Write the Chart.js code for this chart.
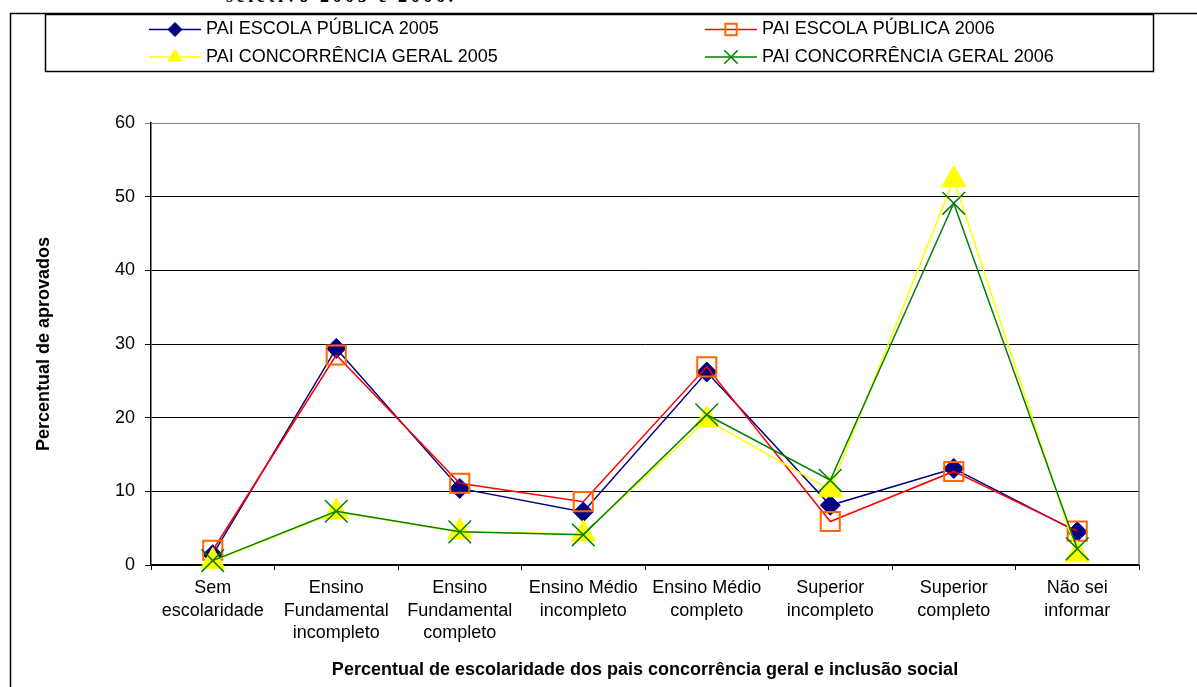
<!DOCTYPE html>
<html>
<head>
<meta charset="utf-8">
<script src="https://cdn.jsdelivr.net/npm/chart.js@4.4.0/dist/chart.umd.min.js"></script>
<style>
  html, body { margin: 0; padding: 0; background: #fff; }
  #wrap { position: relative; width: 1197px; height: 687px; overflow: hidden; background: #fff; }
  #caption {
    position: absolute; left: 226px; top: -13px;
    font: bold 18px "Liberation Serif", "Times New Roman", serif;
    letter-spacing: 3.6px; line-height: 18px; white-space: nowrap;
  }
  canvas { position: absolute; left: 0; top: 0; }
</style>
</head>
<body>
<div id="wrap">
  <div id="caption">seletivo 2005 e 2006.</div>
  <canvas id="chart" width="1197" height="687"></canvas>
</div>
<script>
// categories (x axis)
const categories = [
    ['Sem', 'escolaridade'],
    ['Ensino', 'Fundamental', 'incompleto'],
    ['Ensino', 'Fundamental', 'completo'],
    ['Ensino Médio', 'incompleto'],
    ['Ensino Médio', 'completo'],
    ['Superior', 'incompleto'],
    ['Superior', 'completo'],
    ['Não sei', 'informar']
];

const seriesNames = [
    'PAI ESCOLA PÚBLICA 2005',
    'PAI ESCOLA PÚBLICA 2006',
    'PAI CONCORRÊNCIA GERAL 2005',
    'PAI CONCORRÊNCIA GERAL 2006'
];

// values (percent)
const escolaPublica2005 = [1.4, 29.4, 10.4, 7.2, 26.2, 8.1, 13.1, 4.5];
const escolaPublica2006 = [2.0, 28.5, 11.1, 8.6, 26.9, 5.9, 12.7, 4.6];
const concorrencia2005 = [0.5, 7.2, 4.5, 4.2, 19.7, 10.2, 52.3, 1.4];
const concorrencia2006 = [0.6, 7.3, 4.5, 4.1, 20.4, 11.5, 49.1, 2.2];

const yTicks = [0, 10, 20, 30, 40, 50, 60];

const FONT = '"Liberation Sans", Arial, sans-serif';

// legend marker sizes (smaller than on the plot)
const legendRadius = [7, 8, 8, 9.5];

// frame, plot right border and the two-column legend
const framePlugin = {
    id: 'frame',
    afterDraw(chart) {
        const ctx = chart.ctx;
        const area = chart.chartArea;
        ctx.save();

        ctx.strokeStyle = '#808080';
        ctx.lineWidth = 1.5;
        ctx.beginPath();
        ctx.moveTo(area.right, area.top);
        ctx.lineTo(area.right, area.bottom);
        ctx.stroke();

        ctx.strokeStyle = '#000';
        ctx.lineWidth = 1.5;
        ctx.beginPath();
        ctx.moveTo(10.5, 687);
        ctx.lineTo(10.5, 13.5);
        ctx.lineTo(1197, 13.5);
        ctx.stroke();
        ctx.strokeRect(45.5, 14.5, 1108, 57);

        ctx.font = '18px ' + FONT;
        ctx.textBaseline = 'middle';
        ctx.textAlign = 'left';
        chart.data.datasets.forEach((ds, i) => {
            const x0 = (i % 2 === 0) ? 149 : 705;
            const y = (i < 2) ? 29.5 : 57;
            ctx.strokeStyle = ds.borderColor;
            ctx.lineWidth = ds.borderWidth;
            ctx.beginPath();
            ctx.moveTo(x0, y);
            ctx.lineTo(x0 + 52, y);
            ctx.stroke();

            ctx.strokeStyle = ds.pointBorderColor;
            ctx.fillStyle = ds.pointBackgroundColor;
            ctx.lineWidth = ds.pointBorderWidth;
            Chart.helpers.drawPoint(ctx, {
                pointStyle: ds.pointStyle,
                radius: legendRadius[i],
                rotation: 0,
                borderWidth: ds.pointBorderWidth
            }, x0 + 26, y);

            ctx.fillStyle = '#000';
            ctx.fillText(ds.label, x0 + 57, y);
        });
        ctx.restore();
    }
};

const ctx = document.getElementById('chart').getContext('2d');
new Chart(ctx, {
    type: 'line',
    data: {
        labels: categories,
        datasets: [{
            label: seriesNames[0],
            data: escolaPublica2005,
            borderColor: '#000080',
            borderWidth: 1.5,
            pointStyle: 'rectRot',
            pointRadius: 10,
            pointBorderColor: '#000080',
            pointBackgroundColor: '#000080',
            pointBorderWidth: 1,
            clip: false,
            order: 3
        }, {
            label: seriesNames[1],
            data: escolaPublica2006,
            borderColor: '#FF0000',
            borderWidth: 1.5,
            pointStyle: 'rect',
            pointRadius: 13.5,
            pointBorderColor: '#FF6600',
            pointBackgroundColor: 'rgba(0,0,0,0)',
            pointBorderWidth: 2,
            clip: false,
            order: 2
        }, {
            label: seriesNames[2],
            data: concorrencia2005,
            borderColor: '#FFFF00',
            borderWidth: 1.5,
            pointStyle: 'triangle',
            pointRadius: 14,
            pointBorderColor: '#FFFF00',
            pointBackgroundColor: '#FFFF00',
            pointBorderWidth: 1,
            clip: false,
            order: 1
        }, {
            label: seriesNames[3],
            data: concorrencia2006,
            borderColor: '#008000',
            borderWidth: 1.5,
            pointStyle: 'crossRot',
            pointRadius: 16,
            pointBorderColor: '#008000',
            pointBackgroundColor: '#008000',
            pointBorderWidth: 1.5,
            clip: false,
            order: 0
        }]
    },
    options: {
        responsive: false,
        animation: false,
        events: [],
        layout: { padding: { left: 30, top: 123, right: 58, bottom: 0 } },
        elements: { line: { tension: 0, fill: false } },
        plugins: {
            legend: { display: false },
            tooltip: { enabled: false }
        },
        scales: {
            x: {
                offset: true,
                grid: { offset: true, drawOnChartArea: false, color: '#000', tickLength: 5 },
                border: { color: '#000', width: 1.5 },
                ticks: {
                    autoSkip: false, maxRotation: 0, minRotation: 0,
                    padding: 7, color: '#000',
                    font: { family: FONT, size: 18, lineHeight: 1.25 }
                },
                title: {
                    display: true,
                    text: 'Percentual de escolaridade dos pais concorrência geral e inclusão social',
                    color: '#000',
                    font: { family: FONT, size: 18, weight: 'bold' },
                    padding: { top: 0, bottom: 6 }
                },
                afterFit(scale) { scale.height = 122; }
            },
            y: {
                min: yTicks[0],
                max: yTicks[yTicks.length - 1],
                afterBuildTicks(scale) { scale.ticks = yTicks.map(v => ({ value: v })); },
                grid: {
                    color: (c) => (c.tick && c.tick.value === 60) ? '#808080' : '#000',
                    tickLength: 6,
                    lineWidth: 1
                },
                border: { color: '#000', width: 1.5 },
                ticks: {
                    padding: 10, color: '#000',
                    font: { family: FONT, size: 18 }
                },
                title: {
                    display: true,
                    text: 'Percentual de aprovados',
                    color: '#000',
                    font: { family: FONT, size: 18, weight: 'bold' },
                    padding: { top: 3, bottom: 0 }
                },
                afterFit(scale) { scale.width = 121; }
            }
        }
    },
    plugins: [framePlugin]
});
</script>
</body>
</html>
